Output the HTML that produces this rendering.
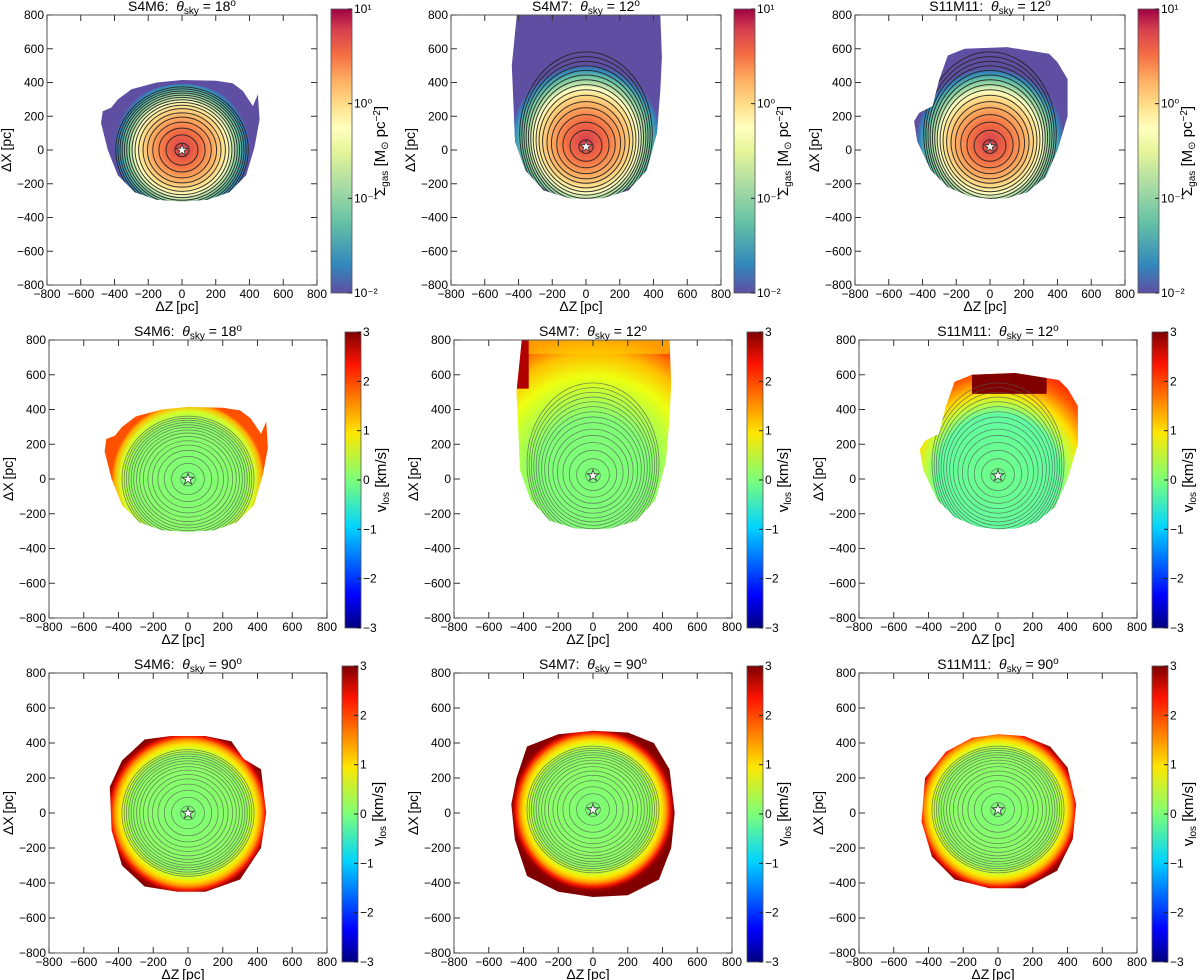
<!DOCTYPE html>
<html><head><meta charset="utf-8"><style>
body{margin:0;background:#fff;}
svg{display:block;font-family:"Liberation Sans","DejaVu Sans",sans-serif;}
</style></head><body>
<svg id="fig" width="1200" height="980" viewBox="0 0 1200 980">
<defs>
<linearGradient id="spec" x1="0" y1="1" x2="0" y2="0">
<stop offset="0" stop-color="#5e4fa2"/><stop offset="0.1" stop-color="#3288bd"/><stop offset="0.25" stop-color="#66c2a5"/><stop offset="0.38" stop-color="#abdda4"/><stop offset="0.5" stop-color="#e6f598"/><stop offset="0.58" stop-color="#ffffbf"/><stop offset="0.66" stop-color="#fee08b"/><stop offset="0.75" stop-color="#fdae61"/><stop offset="0.84" stop-color="#f46d43"/><stop offset="0.93" stop-color="#d53e4f"/><stop offset="1" stop-color="#9e0142"/>
</linearGradient>
<linearGradient id="jet" x1="0" y1="1" x2="0" y2="0">
<stop offset="0" stop-color="#00007f"/><stop offset="0.11" stop-color="#0000ff"/><stop offset="0.34" stop-color="#00d4ff"/><stop offset="0.5" stop-color="#7cff79"/><stop offset="0.66" stop-color="#ffe600"/><stop offset="0.89" stop-color="#ff1400"/><stop offset="1" stop-color="#7f0000"/>
</linearGradient>
</defs>
</svg>
<script>
const ticks=[-800,-600,-400,-200,0,200,400,600,800];
const sigTicks=["10\u207B\u00B2","10\u207B\u00B9","10\u2070","10\u00B9"];
const velTicks=[-3,-2,-1,0,1,2,3];
const names=["S4M6","S4M7","S11M11"];
const angles=[[18,12,12],[18,12,12],[90,90,90]];
const outlineA=[[-470,230],[-420,250],[-380,300],[-300,360],[-150,400],[0,415],[200,410],[300,395],[360,350],[420,260],[450,330],[460,180],[430,20],[380,-150],[280,-250],[150,-295],[0,-305],[-150,-295],[-280,-250],[-380,-150],[-440,0],[-480,160]];
const outlineB=[[-430,280],[-440,500],[-410,800],[440,800],[450,550],[440,350],[420,100],[360,-120],[250,-240],[100,-285],[0,-290],[-100,-285],[-250,-240],[-360,-120],[-420,50]];
const outlineC=[[-450,170],[-420,220],[-340,260],[-300,420],[-250,560],[-150,600],[100,610],[350,570],[400,520],[460,420],[460,200],[400,0],[330,-160],[220,-250],[100,-285],[0,-290],[-120,-275],[-250,-220],[-350,-120],[-430,50]];
const outline90=[[[-450,150],[-380,300],[-250,420],[-100,440],[100,440],[250,410],[320,310],[420,250],[450,0],[420,-200],[300,-380],[100,-450],[-60,-450],[-250,-420],[-380,-300],[-440,-100]],
[[-440,200],[-380,380],[-200,450],[0,470],[200,460],[350,400],[440,250],[470,0],[450,-200],[380,-380],[200,-470],[0,-480],[-200,-450],[-380,-360],[-450,-150],[-470,50]],
[[-420,200],[-300,350],[-150,430],[0,450],[150,440],[300,380],[400,260],[450,50],[430,-150],[340,-330],[150,-430],[-50,-430],[-250,-380],[-380,-250],[-440,-50]]];
const outlines=[outlineA,outlineB,outlineC];
const contourR=[40,90,130,165,195,220,245,265,282,298,312,325,338,350,362,374];
const starY=[0,20,20];
const NS="http://www.w3.org/2000/svg";
const svg=document.getElementById('fig');
function mk(tag,attrs,parent){const e=document.createElementNS(NS,tag);for(const k in attrs)e.setAttribute(k,attrs[k]);(parent||svg).appendChild(e);return e;}
const rows=[{y:15,h:270,w:270,xs:[47,451,855],cb:[331,734,1138],cby:9,cbh:284},
{y:340,h:278,w:278,xs:[49,454,859],cb:[345,747,1152],cby:332,cbh:296},
{y:673,h:280,w:278,xs:[49,454,859],cb:[342,747,1152],cby:666,cbh:296}];
const row1Ell=[[0,20,430,370],[0,110,440,410],[0,90,440,390]];
rows.forEach((R,ri)=>{R.xs.forEach((x0,ci)=>{
 const W=R.w,H=R.h,y0=R.y;
 const sx=v=>x0+(v+800)/1600*W, sy=v=>y0+(800-v)/1600*H;
 const g=mk('g',{});
 
 
 const pid='cl'+ri+ci;
 const cp=mk('clipPath',{id:pid},g);
 const ol=ri<2?outlines[ci]:outline90[ci];
 const pts=ol.map(p=>sx(p[0]).toFixed(1)+','+sy(p[1]).toFixed(1)).join(' ');
 mk('polygon',{points:pts},cp);
 const cy=sy(starY[ci]),cx=sx(0);
 const gid='rg'+ri+ci;
 let rr=430;
 if(ri==0) rr=[420,470,460][ci];
 if(ri==1) rr=ci==1?820:(ci==2?640:440);
 if(ri==2) rr=480;
 const gcy=ri==0?sy(row1Ell[ci][1]*0.5):cy;
 const rg=mk('radialGradient',{id:gid,gradientUnits:'userSpaceOnUse',cx:cx,cy:gcy,r:rr/1600*W},g);
 let stops;
 if(ri==0) stops=[[0,'#d53e4f'],[0.25,'#f46d43'],[0.45,'#fdae61'],[0.58,'#fee08b'],[0.66,'#ffffbf'],[0.74,'#abdda4'],[0.82,'#66c2a5'],[0.9,'#3288bd'],[0.96,'#5e4fa2'],[1,'#5e4fa2']];
 else if(ri==1&&ci==1) stops=[[0,'#7cff79'],[0.4,'#80ff76'],[0.55,'#b4ff44'],[0.7,'#eeff10'],[0.85,'#ffc000'],[1,'#ff5000']];
 else if(ri==1&&ci==2) stops=[[0,'#70ff88'],[0.55,'#60ffa0'],[0.65,'#c0ff40'],[0.75,'#ffe000'],[0.9,'#ff6000'],[1,'#ff3000']];
 else if(ri==1) stops=[[0,'#7cff79'],[0.75,'#8cff66'],[0.88,'#d4ff2a'],[0.96,'#ffb000'],[1,'#ff5000']];
 else stops=[[0,'#7cff79'],[0.7,'#90ff60'],[0.78,'#d8ff20'],[0.83,'#ffe000'],[0.88,'#ff9000'],[0.92,'#ff2000'],[0.96,'#a00000'],[1,'#800000']];
 stops.forEach(s=>mk('stop',{offset:s[0],'stop-color':s[1]},rg));
 const cg=mk('g',{'clip-path':'url(#'+pid+')'},g);
 if(ri==0) mk('rect',{x:x0,y:y0,width:W,height:H,fill:'#5e4fa2'},cg);
 const e1=row1Ell[ci];
 const blob=mk(ri==0?'ellipse':'rect',ri==0?{cx:sx(e1[0]),cy:sy(e1[1]),rx:e1[2]/1600*W,ry:e1[3]/1600*H,fill:'url(#'+gid+')'}:{x:x0,y:y0,width:W,height:H,fill:'url(#'+gid+')'},cg);
 
 
 if(ri==1&&ci==2) mk('rect',{x:sx(-150),y:sy(610),width:sx(280)-sx(-150),height:sy(490)-sy(610),fill:'#800000'},cg);
 if(ri==1&&ci==1){mk('rect',{x:sx(-450),y:sy(800),width:sx(-370)-sx(-450),height:sy(520)-sy(800),fill:'#b00000'},cg);mk('rect',{x:sx(-370),y:sy(800),width:sx(440)-sx(-370),height:sy(720)-sy(800),fill:'#ffd000','fill-opacity':0.6},cg);}
 const nC=ri==0?contourR.length:15;
 contourR.slice(0,nC).forEach((r,k)=>{
  let ry=r, off=0;
  if(ci>0&&ri<2){ry=r*(1+k*0.02);off=k*5;}
  const c=mk('ellipse',{cx:cx,cy:sy(starY[ci]+off),rx:(r*1.05)/1600*W,ry:ry/1600*H,fill:'none',stroke:ri==0?'#222':'#555','stroke-width':ri==0?1:0.8,'stroke-opacity':ri==0?0.9:0.7},cg);
  
  
 });
 const st=mk('text',{x:cx,y:cy+5,'text-anchor':'middle','font-size':15,fill:'#fff',stroke:'#333','stroke-width':0.8},g);
 st.textContent='\u2605';
 
 
 mk('rect',{x:x0,y:y0,width:W,height:H,fill:'none',stroke:'#555','stroke-width':1},g);
 ticks.forEach(t=>{
  const X=sx(t),Y=sy(t);
  mk('line',{x1:X,y1:y0+H,x2:X,y2:y0+H-6,stroke:'#333'},g);
  mk('line',{x1:X,y1:y0,x2:X,y2:y0+6,stroke:'#333'},g);
  mk('line',{x1:x0,y1:Y,x2:x0+6,y2:Y,stroke:'#333'},g);
  mk('line',{x1:x0+W,y1:Y,x2:x0+W-6,y2:Y,stroke:'#333'},g);
  const lx=mk('text',{x:X,y:y0+H+13,'text-anchor':'middle','font-size':12,fill:'#000'},g);lx.textContent=String(t).replace('-','\u2212');
  
  const ly=mk('text',{x:x0-3,y:Y+4,'text-anchor':'end','font-size':12,fill:'#000'},g);ly.textContent=String(t).replace('-','\u2212');
  
 });
 const xt=mk('text',{x:x0+W/2-5,y:y0+H+26,'text-anchor':'middle','font-size':14},g);xt.textContent='\u0394Z\u2009[pc]';
 
 const yt=mk('text',{x:0,y:0,'text-anchor':'middle','font-size':14,transform:'translate('+(x0-36)+','+(y0+H/2)+') rotate(-90)'},g);yt.textContent='\u0394X\u2009[pc]';
 
 const tt=mk('text',{x:x0+W/2,y:y0-4,'text-anchor':'middle','font-size':14},g);
 
 tt.innerHTML=names[ci]+':\u00A0 <tspan font-style="italic">\u03B8</tspan><tspan font-size="10" dy="3">sky</tspan><tspan dy="-3"> = '+angles[ri][ci]+'</tspan><tspan font-size="10" dy="-5">o</tspan>';
 const cbx=R.cb[ci],cbw=ri==0?21:16;
 const cb=mk('rect',{x:cbx,y:R.cby,width:cbw,height:R.cbh,fill:ri==0?'url(#spec)':'url(#jet)',stroke:'#555','stroke-width':0.8},g);
 
 const labs=ri==0?sigTicks:velTicks;
 labs.forEach((l,k)=>{
  const Y=R.cby+R.cbh-k/(labs.length-1)*R.cbh;
  mk('line',{x1:cbx+cbw-4,y1:Y,x2:cbx+cbw,y2:Y,stroke:'#222'},g);
  const tl=mk('text',{x:cbx+cbw+2,y:Y+4,'font-size':12},g);tl.textContent=typeof l=='number'?String(l).replace('-','\u2212'):l;
  
 });
 const cl=mk('text',{x:0,y:0,'text-anchor':'middle','font-size':15,transform:'translate('+(cbx+cbw+(ri==0?33:25))+','+(R.cby+R.cbh/2)+') rotate(-90)'},g);
 
 cl.innerHTML=ri==0?'\u03A3<tspan font-size="10" dy="3">gas</tspan><tspan dy="-3"> [M</tspan><tspan font-size="10" dy="3">\u2299</tspan><tspan dy="-3"> pc</tspan><tspan font-size="10" dy="-5">\u22122</tspan><tspan dy="5">]</tspan>':'v<tspan font-size="10" dy="3">los</tspan><tspan dy="-3"> [km/s]</tspan>';
});});
</script>
</body></html>
